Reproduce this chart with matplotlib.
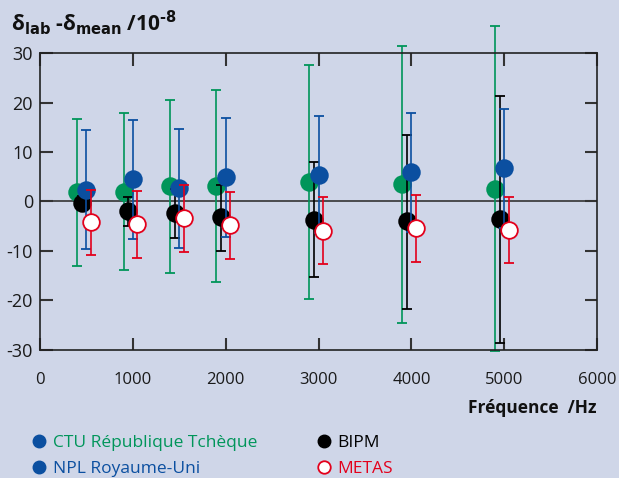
import matplotlib.pyplot as plt
import numpy as np
from matplotlib.lines import Line2D

freq = np.array([500, 1000, 1500, 2000, 3000, 4000, 5000])

# CTU (green), plotted at f - 100
ctu = [1.9, 2.0, 3.1, 3.2, 4.0, 3.5, 2.6]
ctu_hi = [16.6, 17.9, 20.6, 22.6, 27.6, 31.5, 35.4]
ctu_lo = [-13.0, -13.9, -14.5, -16.2, -19.7, -24.5, -30.2]

# BIPM (black), plotted at f - 50
bipm = [-0.3, -2.0, -2.3, -3.2, -3.7, -4.0, -3.6]
bipm_hi = [1.2, 1.0, 2.6, 3.4, 7.9, 13.5, 21.3]
bipm_lo = [-1.8, -5.0, -7.3, -10.0, -15.3, -21.7, -28.6]

# NPL (blue), plotted at f
npl = [2.4, 4.6, 2.7, 4.9, 5.4, 5.9, 6.7]
npl_hi = [14.5, 16.5, 14.6, 16.8, 17.3, 17.9, 18.7]
npl_lo = [-9.6, -7.5, -9.4, -7.1, -6.4, -6.1, -5.3]

# METAS (red), plotted at f + 50
metas = [-4.2, -4.5, -3.4, -4.8, -5.9, -5.4, -5.7]
metas_hi = [2.4, 2.2, 3.4, 1.9, 1.0, 1.4, 1.0]
metas_lo = [-10.8, -11.4, -10.2, -11.7, -12.6, -12.2, -12.4]

bg = '#cfd6e8'
green = '#00955a'
blue = '#0b4fa0'
red = '#e3001b'

plt.rcParams['font.family'] = ['Open Sans', 'DejaVu Sans']
plt.rcParams['axes.unicode_minus'] = False

fig = plt.figure(figsize=(6.19, 4.78), dpi=100, facecolor=bg)
ax = fig.add_axes([0.0646, 0.268, 0.9, 0.621])
ax.set_facecolor(bg)

ax.axhline(0, color='#333333', lw=1.2, zorder=1)


def series(dx, y, hi, lo, color, face, z):
    y = np.array(y)
    err = [y - np.array(lo), np.array(hi) - y]
    cont = ax.errorbar(freq + dx, y, yerr=err, fmt='o', color=color, mfc=face, mec=color,
                       ms=12, mew=1.3, elinewidth=1.2, capsize=3.8, capthick=1.2, zorder=z)
    for art in cont.lines[1] + cont.lines[2]:
        art.set_clip_on(False)


series(-100, ctu, ctu_hi, ctu_lo, green, green, 2)
series(-50, bipm, bipm_hi, bipm_lo, 'black', 'black', 3)
series(0, npl, npl_hi, npl_lo, blue, blue, 4)
series(50, metas, metas_hi, metas_lo, red, 'white', 5)

ax.set_xlim(0, 6000)
ax.set_ylim(-30, 30)
ax.set_xticks(np.arange(0, 6001, 1000))
ax.set_yticks(np.arange(-30, 31, 10))
ax.tick_params(direction='in', length=9, width=1.5, color='#333333',
               top=True, right=True, labelcolor='#1a1a1a')
ax.tick_params(axis='x', pad=16, labelsize=12)
ax.tick_params(axis='y', pad=5, labelsize=13)
for s in ax.spines.values():
    s.set_color('#222222')
    s.set_linewidth(1.2)

fig.text(0.018, 0.937, 'δ$_{\\mathbf{lab}}$ -δ$_{\\mathbf{mean}}$ /10$^{\\mathbf{\u20108}}$',
         fontsize=15, fontweight='bold', color='#111111', va='baseline')
fig.text(0.963, 0.147, 'Fréquence  /Hz', fontsize=12.5, fontweight='bold',
         color='#111111', ha='right', va='center')

handles = [
    Line2D([], [], ls='', marker='o', ms=9, color=blue, mec=blue),
    Line2D([], [], ls='', marker='o', ms=9, color=blue, mec=blue),
    Line2D([], [], ls='', marker='o', ms=9, color='black', mec='black'),
    Line2D([], [], ls='', marker='o', ms=9, mfc='white', mec=red, mew=1.3),
]
labels = ['CTU République Tchèque', 'NPL Royaume-Uni', 'BIPM', 'METAS']
leg = fig.legend(handles, labels, ncol=2, loc='lower left', bbox_to_anchor=(0.03, -0.03),
                 frameon=False, fontsize=12.5, handlelength=0.6, handletextpad=0.5,
                 columnspacing=3.5, labelspacing=0.55)
for t, c in zip(leg.get_texts(), [green, blue, 'black', red]):
    t.set_color(c)

fig.savefig('out.png', dpi=100, facecolor=bg)
